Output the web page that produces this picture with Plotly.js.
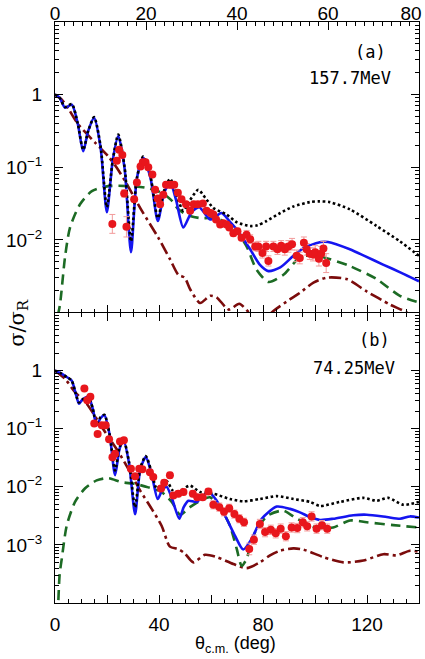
<!DOCTYPE html>
<html>
<head>
<meta charset="utf-8">
<script src="https://cdn.plot.ly/plotly-3.0.1.min.js"></script>
<style>
  body { margin: 0; background: #fff; }
</style>
</head>
<body>
<div id="chart" style="width:425px;height:659px"></div>
<script>
// values as log10(sigma/sigma_R), angles in deg (c.m.)

// ---- panel (a) 157.7 MeV ----
const aBlueAng = [0,1,2.2,3.7,5,6.2,7.3,8.6,10,11.4,12.7,13.9,15.3,16.7,18,19.4,21,22.6,24,25.3,26.6,28.2,30,31.7,34.1,36.6,38.3,40,42.9,45,46.9,49.5,52.4,55,58.5,60,64.8,68,72.1,76,80];
const aBlueLog = [0,-0.04,-0.18,-0.14,-0.4,-0.78,-0.5,-0.32,-0.72,-1.62,-0.9,-0.57,-1.02,-2.17,-1.15,-0.87,-1.15,-1.74,-1.35,-1.21,-1.45,-1.83,-1.62,-1.55,-1.72,-1.63,-1.74,-1.86,-2.13,-2.34,-2.43,-2.38,-2.22,-2.10,-2.03,-2.03,-2.13,-2.22,-2.34,-2.45,-2.57];

const aBlackAng = [0,1,2.2,3.7,5,6.2,7.3,8.6,10,11.4,12.7,13.9,15.3,16.7,18,19.4,21,22.6,24,25.3,26.6,28.2,29.7,31.5,33,34.8,37.7,40,42.9,44.5,46.5,49.5,52.4,56,58,60.4,64.8,70.7,75.8,80];
const aBlackLog = [0,-0.04,-0.17,-0.13,-0.4,-0.76,-0.5,-0.31,-0.7,-1.55,-0.9,-0.55,-1.0,-2.02,-1.15,-0.85,-1.13,-1.70,-1.32,-1.16,-1.36,-1.60,-1.45,-1.31,-1.42,-1.56,-1.65,-1.76,-1.81,-1.80,-1.74,-1.63,-1.54,-1.48,-1.47,-1.48,-1.58,-1.81,-2.02,-2.22];

const aGreenAng = [0.6,1.1,2.2,3.3,5.5,8.1,11.7,16,19.8,23.4,25.5,27.3,29.7,31.9,34,36.3,39.6,42.1,44.3,46.9,50.2,53.8,56.5,59,64.8,70.7,75.8,80];
const aGreenLog = [-3.05,-2.89,-2.24,-1.83,-1.51,-1.33,-1.26,-1.26,-1.28,-1.35,-1.45,-1.59,-1.67,-1.70,-1.70,-1.72,-1.86,-2.09,-2.41,-2.58,-2.48,-2.24,-2.21,-2.24,-2.36,-2.54,-2.77,-2.86];

const aMaroonAng = [0,1.5,3,5.1,8.8,11.7,13.5,15.4,19.1,22.7,25.3,27.1,28.5,29.7,31.9,34.1,35.5,38.2,40.5,43,45.5,48.4,51.6,53.8,56.8,59.7,64.1,68.5,73.6,77.3,80];
const aMaroonLog = [0,-0.07,-0.2,-0.41,-0.66,-0.85,-1.0,-1.19,-1.60,-1.97,-2.27,-2.48,-2.52,-2.68,-2.87,-2.77,-2.79,-2.96,-2.88,-3.02,-3.1,-2.96,-2.82,-2.73,-2.59,-2.52,-2.54,-2.71,-2.89,-3.0,-3.15];

const aDataAng = [12.6,13.6,14.1,14.8,15.2,15.7,17.4,18.0,18.8,19.3,19.9,20.5,21.4,22.0,22.6,23.1,23.8,24.4,25.1,25.6,26.2,27.0,27.8,28.8,29.7,30.5,31.4,32.5,33.3,34.2,34.8,35.4,36.3,37.0,37.7,38.3,39.2,40.1,41.0,42.1,42.9,44.0,44.7,45.6,46.4,46.9,48.0,48.9,49.7,50.5,51.3,52.1,53.1,53.8,54.7,55.3,56.0,56.7,57.2,58.0,58.5,59.0,59.6];
const aDataLog = [-1.78,-0.91,-0.76,-0.83,-1.36,-1.82,-1.44,-1.21,-0.99,-0.93,-0.93,-1.00,-1.10,-1.31,-1.43,-1.51,-1.38,-1.24,-1.24,-1.24,-1.24,-1.35,-1.44,-1.51,-1.60,-1.51,-1.51,-1.50,-1.60,-1.63,-1.65,-1.72,-1.79,-1.77,-1.79,-1.83,-1.91,-1.88,-1.97,-1.93,-1.99,-2.09,-2.09,-2.18,-2.09,-2.29,-2.09,-2.13,-2.08,-2.13,-2.09,-2.06,-2.22,-2.25,-2.04,-2.13,-2.19,-2.20,-2.17,-2.26,-2.19,-2.12,-2.32];
const aDataErr = [0.13,0.03,0.03,0.03,0.05,0.14,0.03,0.03,0.03,0.03,0.03,0.03,0.03,0.03,0.03,0.03,0.03,0.03,0.03,0.03,0.03,0.03,0.03,0.03,0.03,0.03,0.03,0.03,0.03,0.03,0.03,0.03,0.03,0.03,0.03,0.03,0.04,0.04,0.04,0.06,0.06,0.06,0.07,0.07,0.07,0.07,0.07,0.07,0.07,0.08,0.08,0.08,0.08,0.08,0.08,0.08,0.08,0.09,0.09,0.1,0.1,0.1,0.13];

// ---- panel (b) 74.25 MeV ----
const bBlueAng = [0,2,4.5,6.4,8,9.2,10.5,12.8,14.5,16,17.5,19,21,23.1,24.8,26.3,28.5,30.8,32.8,34.9,37,39.5,41.3,42.9,45,47.8,49.5,51.3,54.5,59,62.2,66,69.2,72.4,75.6,79.5,85.3,90.4,94.2,98.1,101.9,107,114.7,119.9,127.6,132.7,136.5,140];
const bBlueLog = [0,-0.04,-0.11,-0.17,-0.4,-0.57,-0.5,-0.45,-0.65,-0.94,-0.82,-0.77,-1.1,-1.80,-1.35,-1.20,-1.6,-2.47,-1.7,-1.49,-1.75,-2.21,-2.05,-2.0,-2.2,-2.55,-2.35,-2.24,-2.26,-2.09,-2.24,-2.55,-2.84,-3.08,-2.90,-2.55,-2.34,-2.38,-2.44,-2.52,-2.57,-2.55,-2.49,-2.48,-2.52,-2.55,-2.51,-2.53];

const bBlackAng = [0,2,4.5,6.4,8,9.2,10.5,12.8,14.5,16,17.5,19,21,23.1,24.8,26.3,28.5,30.8,32.8,34.9,37,39.1,41,42.9,45,47,49,51.9,55.8,61,67.3,72.4,78.8,85.3,91.7,98.1,101.9,109.6,118.6,123.7,128.2,134,140];
const bBlackLog = [0,-0.04,-0.11,-0.17,-0.4,-0.55,-0.5,-0.45,-0.65,-0.92,-0.8,-0.76,-1.1,-1.72,-1.33,-1.18,-1.58,-2.35,-1.68,-1.47,-1.72,-2.03,-1.95,-1.90,-2.05,-2.15,-2.05,-1.98,-2.09,-2.12,-2.21,-2.25,-2.21,-2.16,-2.21,-2.26,-2.33,-2.26,-2.19,-2.24,-2.19,-2.31,-2.26];

const bGreenAng = [1.3,1.8,2.6,4.5,7.7,11.5,16,20.5,25.6,30.8,35.9,41,44.9,48.1,51.9,55.8,59.6,63.5,67.3,69.9,71.8,73.7,75.5,77.6,82,87.8,93,97.4,100.6,107,113.5,119.9,130.1,140];
const bGreenLog = [-3.95,-3.5,-3.24,-2.67,-2.26,-2.03,-1.89,-1.85,-1.92,-1.95,-2.01,-2.09,-2.26,-2.48,-2.35,-2.24,-2.18,-2.35,-2.67,-3.07,-3.36,-3.24,-2.95,-2.72,-2.49,-2.41,-2.55,-2.64,-2.71,-2.70,-2.58,-2.61,-2.66,-2.70];

const bMaroonAng = [0,3.8,7.7,12.2,16.7,20.5,24.4,28.2,32.7,37.2,41,44.2,47.4,50,53.2,57.7,62.2,68.6,73.7,78.8,82.7,86.5,91.7,95.5,103.2,110.9,118.6,126.3,131.4,136.5,140];
const bMaroonLog = [0,-0.14,-0.37,-0.57,-0.88,-1.14,-1.40,-1.69,-2.06,-2.38,-2.67,-3.03,-3.07,-3.15,-3.30,-3.17,-3.21,-3.33,-3.40,-3.30,-3.18,-3.10,-3.06,-3.08,-3.21,-3.30,-3.27,-3.16,-3.18,-3.10,-3.12];

const bDataAng = [11.3,12.4,13.6,15.1,16.4,18.0,19.5,20.8,22.1,23.1,25.0,26.5,29.2,30.8,32.4,33.6,36.5,37.8,40.8,42.0,44.2,45.5,47.4,49.4,53.0,54.7,56.8,59.0,60.9,63.2,65.0,67.0,69.0,70.9,72.7,74.7,76.5,78.8,80.8,83.0,84.9,86.8,88.8,91.0,93.2,95.3,97.0,98.7,100.6,102.7,104.7];
const bDataLog = [-0.31,-0.51,-0.45,-0.91,-1.09,-0.94,-0.94,-1.18,-1.49,-1.43,-1.22,-1.20,-1.69,-1.82,-1.69,-1.70,-1.75,-1.83,-2.03,-1.93,-1.80,-2.15,-2.12,-2.09,-2.12,-2.18,-2.18,-2.08,-2.31,-2.35,-2.43,-2.37,-2.47,-2.55,-2.61,-3.07,-2.91,-2.64,-2.78,-2.74,-2.80,-2.72,-2.85,-2.70,-2.71,-2.61,-2.68,-2.51,-2.72,-2.66,-2.72];
const bDataErr = [0.03,0.03,0.03,0.03,0.03,0.03,0.03,0.03,0.03,0.03,0.03,0.03,0.03,0.03,0.03,0.03,0.03,0.03,0.05,0.05,0.05,0.05,0.05,0.05,0.05,0.05,0.05,0.05,0.07,0.07,0.07,0.07,0.07,0.07,0.07,0.1,0.08,0.08,0.08,0.08,0.08,0.08,0.08,0.08,0.08,0.08,0.08,0.08,0.08,0.08,0.08];

// tick labels
const yTickVals = [0.001, 0.01, 0.1, 1];
const aYTickText = ['', '10<sup>−2</sup>', '10<sup>−1</sup>', '1'];
const bYTickText = ['10<sup>−3</sup>', '10<sup>−2</sup>', '10<sup>−1</sup>', '1'];
const aXTickVals = [0, 20, 40, 60, 80];
const bXTickVals = [0, 20, 40, 60, 80, 100, 120, 140];
const bXTickText = ['0', '', '40', '', '80', '', '120', ''];


const pow10 = arr => arr.map(v => Math.pow(10, v));

// log-axis minor ticks 2..9 in every decade
const minorLogVals = [];
for (let k = -4; k <= 1; k++) {
    for (let m = 2; m <= 9; m++) minorLogVals.push(m * Math.pow(10, k));
}

function curve(ang, lg, xa, ya, color, dash) {
    return {
        x: ang, y: pow10(lg), xaxis: xa, yaxis: ya,
        type: 'scatter', mode: 'lines',
        line: { color: color, width: 2.6, dash: dash, shape: 'spline', smoothing: 0.7 },
        hoverinfo: 'skip', showlegend: false
    };
}

function dataPoints(ang, lg, err, xa, ya) {
    const y = pow10(lg);
    return {
        x: ang, y: y, xaxis: xa, yaxis: ya,
        type: 'scatter', mode: 'markers',
        marker: { color: '#e8161c', size: 8 },
        error_y: {
            type: 'data', symmetric: false,
            array: y.map((v, i) => v * (Math.pow(10, err[i]) - 1)),
            arrayminus: y.map((v, i) => v * (1 - Math.pow(10, -err[i]))),
            color: '#f29b9b', thickness: 1, width: 3
        },
        hoverinfo: 'skip', showlegend: false
    };
}

const MAROON = '#7b0c0c', GREEN = '#1c6b24', BLUE = '#1515f0', BLACK = '#000000';
const DASHDOT = '12px,4px,3px,4px', DASHED = '10px,6px', DOTTED = '2.6px,2.6px';

const traces = [
    curve(aMaroonAng, aMaroonLog, 'x', 'y', MAROON, DASHDOT),
    curve(aGreenAng, aGreenLog, 'x', 'y', GREEN, DASHED),
    curve(aBlueAng, aBlueLog, 'x', 'y', BLUE, 'solid'),
    curve(aBlackAng, aBlackLog, 'x', 'y', BLACK, DOTTED),
    dataPoints(aDataAng, aDataLog, aDataErr, 'x', 'y'),

    curve(bMaroonAng, bMaroonLog, 'x2', 'y2', MAROON, DASHDOT),
    curve(bGreenAng, bGreenLog, 'x2', 'y2', GREEN, DASHED),
    curve(bBlueAng, bBlueLog, 'x2', 'y2', BLUE, 'solid'),
    curve(bBlackAng, bBlackLog, 'x2', 'y2', BLACK, DOTTED),
    dataPoints(bDataAng, bDataLog, bDataErr, 'x2', 'y2'),

    // empty trace so the extra tick row between the panels is drawn
    { x: [null], y: [null], xaxis: 'x3', yaxis: 'y', type: 'scatter', mode: 'lines', hoverinfo: 'skip', showlegend: false }
];

const tickFont = { family: 'Liberation Sans, Arial, sans-serif', size: 19, color: '#000' };
const labelFont = { family: 'DejaVu Sans Mono, monospace', size: 17, color: '#000' };

function logAxis(domain, range, tickText) {
    return {
        type: 'log', domain: domain, range: range,
        tickmode: 'array', tickvals: yTickVals, ticktext: tickText,
        ticks: 'inside', ticklen: 8, tickwidth: 1, tickcolor: '#000',
        minor: { tickmode: 'array', tickvals: minorLogVals, ticks: 'inside', ticklen: 4, tickcolor: '#000' },
        showline: true, linecolor: '#000', linewidth: 1, mirror: 'ticks',
        showgrid: false, zeroline: false, tickfont: tickFont, ticklabelstandoff: 8
    };
}

const layout = {
    width: 425, height: 659,
    margin: { l: 55, r: 6, t: 22, b: 56 },
    paper_bgcolor: '#fff', plot_bgcolor: '#fff',
    showlegend: false,
    xaxis: {
        anchor: 'y', side: 'top', range: [0, 80],
        tickmode: 'array', tickvals: aXTickVals,
        ticks: 'inside', ticklen: 8, tickcolor: '#000',
        minor: { dtick: 2, ticks: 'inside', ticklen: 4, tickcolor: '#000' },
        showline: true, linecolor: '#000', linewidth: 1, mirror: false,
        showgrid: false, zeroline: false, tickfont: tickFont,
        ticklabelstandoff: 0, ticklabeloverflow: 'allow'
    },
    xaxis3: {
        overlaying: 'x', anchor: 'y', side: 'bottom', range: [0, 140],
        tickmode: 'array', tickvals: bXTickVals, showticklabels: false,
        ticks: 'inside', ticklen: 8, tickcolor: '#000',
        minor: { dtick: 5, ticks: 'inside', ticklen: 4, tickcolor: '#000' },
        showline: false, showgrid: false, zeroline: false
    },
    xaxis2: {
        anchor: 'y2', range: [0, 140],
        tickmode: 'array', tickvals: bXTickVals, ticktext: bXTickText,
        ticks: 'inside', ticklen: 8, tickcolor: '#000',
        minor: { dtick: 5, ticks: 'inside', ticklen: 4, tickcolor: '#000' },
        showline: true, linecolor: '#000', linewidth: 1, mirror: 'ticks',
        showgrid: false, zeroline: false, tickfont: tickFont,
        ticklabelstandoff: 4, ticklabeloverflow: 'allow'
    },
    yaxis: logAxis([0.5, 1], [-3, 1], aYTickText),
    yaxis2: logAxis([0, 0.5], [-4, 1], bYTickText),
    annotations: [
        { text: '(a)', xref: 'paper', yref: 'paper', x: 0.915, y: 0.948, xanchor: 'right', yanchor: 'middle', showarrow: false, font: labelFont },
        { text: '157.7MeV', xref: 'paper', yref: 'paper', x: 0.929, y: 0.904, xanchor: 'right', yanchor: 'middle', showarrow: false, font: labelFont },
        { text: '(b)', xref: 'paper', yref: 'paper', x: 0.926, y: 0.453, xanchor: 'right', yanchor: 'middle', showarrow: false, font: labelFont },
        { text: '74.25MeV', xref: 'paper', yref: 'paper', x: 0.94, y: 0.405, xanchor: 'right', yanchor: 'middle', showarrow: false, font: labelFont },
        // axis titles
        { text: 'σ/σ<sub>R</sub>', xref: 'paper', yref: 'paper', x: -0.102, y: 0.482, textangle: -90, xanchor: 'center', yanchor: 'middle', showarrow: false,
          font: { family: 'DejaVu Serif, serif', size: 21, color: '#000' } },
        { text: 'θ<sub>c.m.</sub> (deg)', xref: 'paper', yref: 'paper', x: 0.495, y: -0.072, xanchor: 'center', yanchor: 'middle', showarrow: false,
          font: { family: 'Liberation Sans, Arial, sans-serif', size: 18, color: '#000' } }
    ]
};

Plotly.newPlot('chart', traces, layout, { staticPlot: true, displayModeBar: false }).then(function (gd) {
    // top axis labels sit a bit closer to the frame in the original,
    // and the last one ("80") is pulled in so it stays inside the page
    gd.querySelectorAll('.xtick text').forEach(function (t) {
        const tr = t.getAttribute('transform') || '';
        const dx = t.textContent === '80' ? -8 : 0;
        t.setAttribute('transform', tr + ' translate(' + dx + ',7)');
    });
});
</script>
</body>
</html>
